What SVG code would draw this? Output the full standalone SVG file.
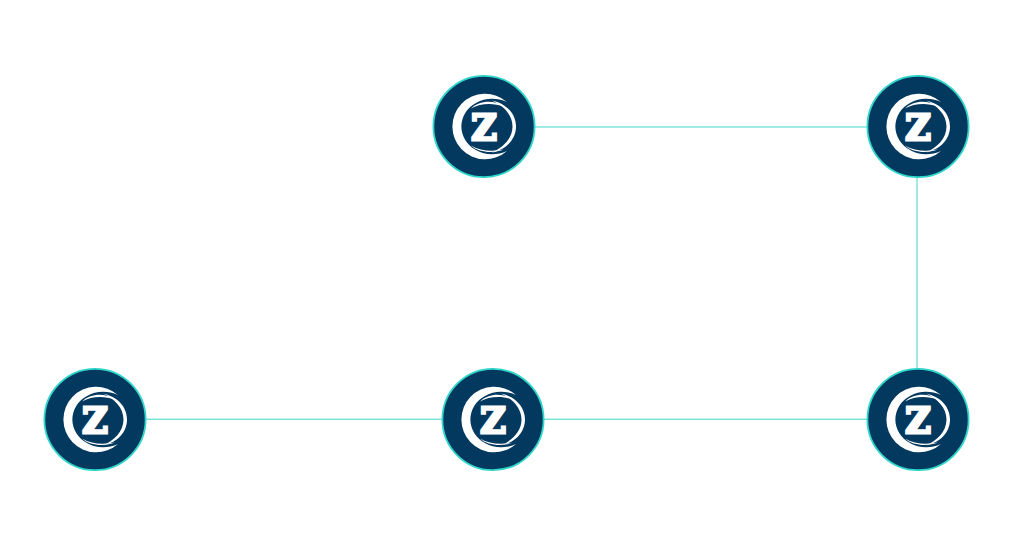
<svg xmlns="http://www.w3.org/2000/svg" width="1024" height="555" viewBox="0 0 1024 555">
  <style>
    .conn { stroke: #3fd6cc; stroke-width: 1; fill: none; }
    .disc { fill: #03385f; stroke: #2fd6ca; stroke-width: 1.8; }
    .mark { fill: #ffffff; }
    .z { fill: #ffffff; stroke: #ffffff; stroke-width: 2.8; stroke-linejoin: miter; font-family: "DejaVu Serif", "Liberation Serif", serif; font-weight: 700; font-size: 35px; text-anchor: middle; }
  </style>
  <defs>
    <g id="logo">
      <circle class="disc" r="50.6"/>
      <path class="mark" d="M23 -24.500 A32.800 32.800 0 1 0 23 24.500 A31 27.800 0 1 1 23 -24.500 Z"/>
      <path class="mark" d="M8 -26 C22 -23 32 -13 32 0 C32 13 22 23 8 26 C19 21 28.500 12 28.500 0 C28.500 -12 19 -21 8 -26 Z"/>
      <path class="mark" d="M-13 -18 C-5 -26 10 -27 20 -20 C9 -23.500 -3 -23.500 -13 -18 Z"/>
      <path class="mark" d="M-13 19 C-5 26.500 10 27 20 23 C9 25 -3 25 -13 19 Z"/>
    </g>
  </defs>
  <rect width="1024" height="555" fill="#ffffff"/>
  <g id="connectors">
    <line class="conn" x1="535" y1="127" x2="867" y2="127"/>
    <line class="conn" x1="917" y1="177" x2="917" y2="368"/>
    <line class="conn" x1="146" y1="419.200" x2="442" y2="419.200"/>
    <line class="conn" x1="544" y1="419.200" x2="867" y2="419.200"/>
  </g>
  <g id="node-1" transform="translate(484 126.500)"><use href="#logo"/><text class="z" x="0" y="13">Z</text></g>
  <g id="node-2" transform="translate(918 126.500)"><use href="#logo"/><text class="z" x="0" y="13">Z</text></g>
  <g id="node-3" transform="translate(95 419.500)"><use href="#logo"/><text class="z" x="0" y="13">Z</text></g>
  <g id="node-4" transform="translate(493 419.500)"><use href="#logo"/><text class="z" x="0" y="13">Z</text></g>
  <g id="node-5" transform="translate(918 419.500)"><use href="#logo"/><text class="z" x="0" y="13">Z</text></g>
</svg>
